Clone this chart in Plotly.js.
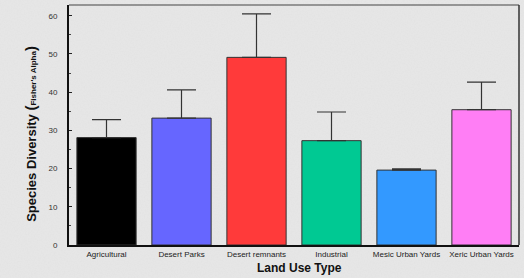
<!DOCTYPE html>
<html><head><meta charset="utf-8">
<script src="https://cdn.plot.ly/plotly-3.0.1.min.js"></script>
<style>
html,body{margin:0;padding:0;width:524px;height:278px;overflow:hidden;}
body{background-color:#e6e6e6;
background-image:url("data:image/svg+xml;utf8,<svg xmlns='http://www.w3.org/2000/svg' width='524' height='278'><filter id='n'><feTurbulence type='fractalNoise' baseFrequency='0.7' numOctaves='2' seed='3'/><feColorMatrix type='matrix' values='0 0 0 0 0.75  0 0 0 0 0.75  0 0 0 0 0.75  0 0 0 1.2 -0.45'/></filter><rect width='100%' height='100%' filter='url(%23n)'/></svg>");}
#chart{width:524px;height:278px;}
</style></head>
<body><div id="chart"></div>
<script>
const categories = ["Agricultural","Desert Parks","Desert remnants","Industrial","Mesic Urban Yards","Xeric Urban Yards"];
const diversity = [28.1, 33.2, 49.1, 27.3, 19.6, 35.4];
const errorPlus = [4.7, 7.4, 11.4, 7.5, 0.3, 7.2];
const barColors = ["#000000","#6666ff","#ff3a3a","#00c993","#3399ff","#ff7ef5"];
const yTicks = [0,10,20,30,40,50,60];

const trace = {
  type:"bar", x:categories, y:diversity, width:0.79,
  marker:{color:barColors, line:{color:"#333333", width:1}},
  error_y:{type:"data", array:errorPlus, symmetric:false, arrayminus:errorPlus.map(()=>0),
           color:"#333333", thickness:1.2, width:14.5},
  hoverinfo:"none"
};
const layout = {
  width:524, height:278,
  margin:{l:69, r:5, t:5, b:33, pad:0},
  paper_bgcolor:"rgba(0,0,0,0)", plot_bgcolor:"rgba(0,0,0,0)",
  showlegend:false,
  font:{family:"Liberation Sans, Arial, sans-serif", color:"#222"},
  xaxis:{showgrid:false, zeroline:false, showline:true, linecolor:"#111", linewidth:2,
         mirror:false, ticks:"", tickfont:{size:8, color:"#222"}, ticklen:0,
         tickangle:0, automargin:false},
  yaxis:{range:[0,62.8], showgrid:false, zeroline:false, showline:true, linecolor:"#111", linewidth:2,
         tickvals:yTicks, ticktext:yTicks.map(String), ticks:"inside", ticklen:3, tickcolor:"#222",
         minor:{ticks:"inside", ticklen:2, dtick:5, tickcolor:"#444"},
         tickfont:{size:8, color:"#333"}, ticklabelstandoff:8, automargin:false},
  shapes:[
    {type:"line", xref:"paper", yref:"paper", x0:0, x1:1, y0:1, y1:1, line:{color:"#444", width:1.2}},
    {type:"line", xref:"paper", yref:"paper", x0:1, x1:1, y0:0, y1:1, line:{color:"#333", width:1.5}}
  ],
  annotations:[
    {text:"<b>Land Use Type</b>", xref:"paper", yref:"paper", x:0.513, y:-0.096, yanchor:"middle",
     showarrow:false, font:{size:12, color:"#111"}},
    {text:"<b>Species Diversity <span style='font-size:15px'>(</span><span style='font-size:8px'>Fisher's Alpha</span><span style='font-size:15px'>)</span></b>",
     xref:"paper", yref:"paper", x:-0.087, y:0.4625, xanchor:"center", yanchor:"middle",
     textangle:-90, showarrow:false, font:{size:13, color:"#111"}}
  ]
};
Plotly.newPlot("chart",[trace],layout,{staticPlot:true, displayModeBar:false});
</script></body></html>
